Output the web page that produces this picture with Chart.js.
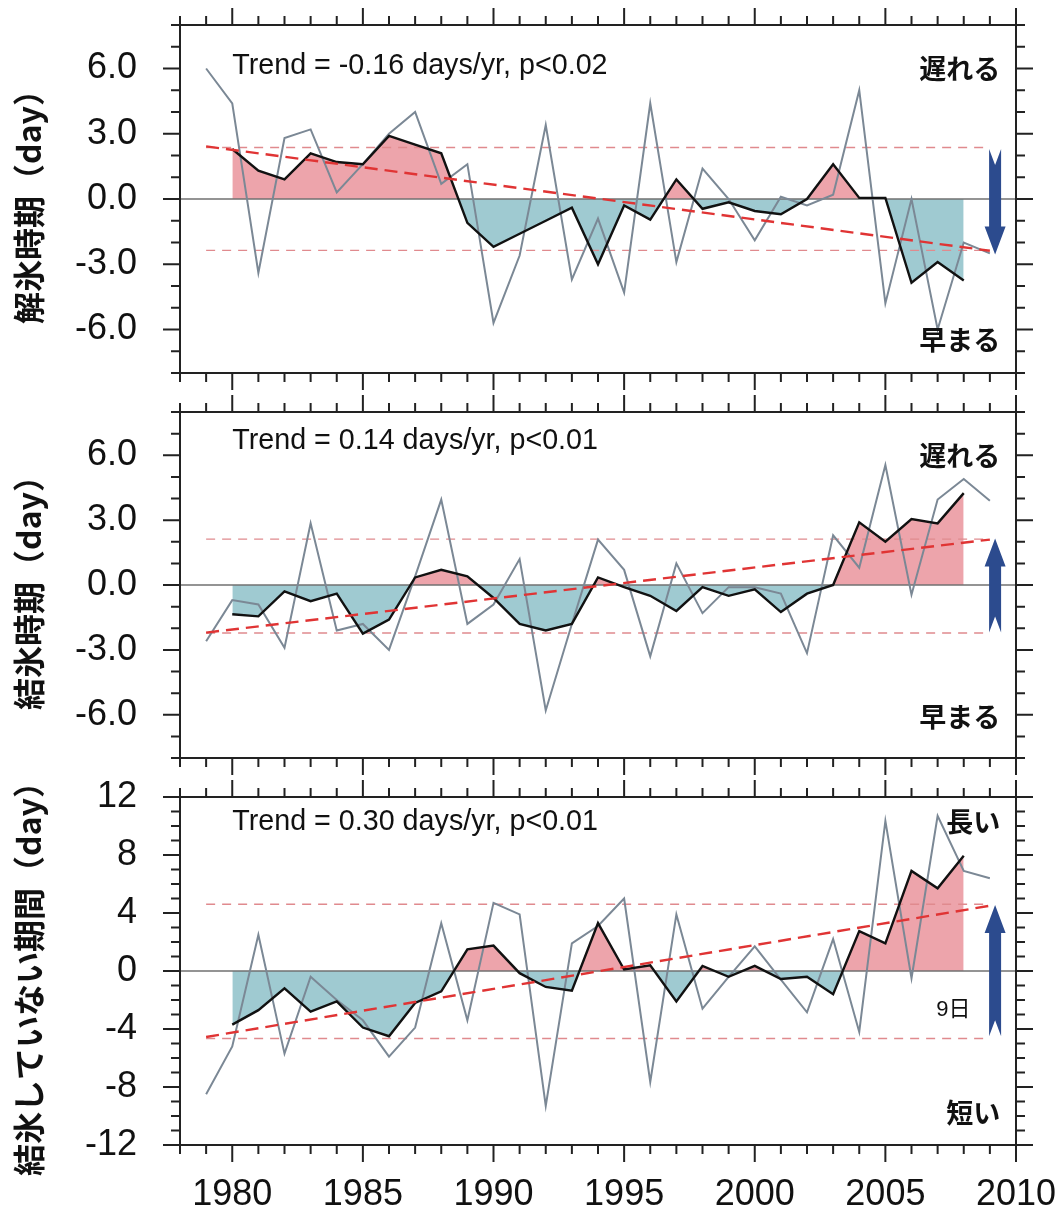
<!DOCTYPE html>
<html>
<head>
<meta charset="utf-8">
<script src="https://cdn.jsdelivr.net/npm/chart.js@4.4.1/dist/chart.umd.min.js"></script>
<style>
  body { margin: 0; background: #fff; width: 1063px; height: 1217px; overflow: hidden; position: relative; }
  canvas { position: absolute; left: 0; }
</style>
</head>
<body>
<canvas id="breakupChart" width="1063" height="393" style="top:0px"></canvas>
<canvas id="freezeChart" width="1063" height="385" style="top:393px"></canvas>
<canvas id="openChart" width="1063" height="477" style="top:740px"></canvas>
<script>
// Years
const annualYears = [1979, 1980, 1981, 1982, 1983, 1984, 1985, 1986, 1987, 1988,
  1989, 1990, 1991, 1992, 1993, 1994, 1995, 1996, 1997, 1998, 1999, 2000, 2001,
  2002, 2003, 2004, 2005, 2006, 2007, 2008, 2009];
const smoothYears = [1980, 1981, 1982, 1983, 1984, 1985, 1986, 1987, 1988, 1989,
  1990, 1991, 1992, 1993, 1994, 1995, 1996, 1997, 1998, 1999, 2000, 2001, 2002,
  2003, 2004, 2005, 2006, 2007, 2008];
const trendYears = [1979, 2009];
const xTicks = [1980, 1985, 1990, 1995, 2000, 2005, 2010];

// 解氷時期 (break-up date anomaly, day)
const breakupAnnual = [6.0, 4.4, -3.4, 2.8, 3.2, 0.3, 1.6, 3.0, 4.0, 0.7, 1.6, -5.7,
  -2.6, 3.4, -3.7, -0.9, -4.3, 4.4, -2.9, 1.4, 0.0, -1.9, 0.1, -0.3, 0.2, 5.0,
  -4.8, 0.0, -6.0, -2.0, -2.5];
const breakupSmooth = [2.3, 1.3, 0.9, 2.1, 1.7, 1.6, 2.9, 2.5, 2.1, -1.1, -2.2,
  -1.6, -1.0, -0.4, -3.0, -0.3, -0.95, 0.9, -0.45, -0.15, -0.55, -0.7, 0.0, 1.6,
  0.05, 0.05, -3.85, -2.9, -3.75];
const breakupTrend = [2.42, -2.38];
const breakupBand = [2.37, -2.36];
const breakupArrow = [2.3, -2.55];
const breakupTicks = [-6, -3, 0, 3, 6];

// 結氷時期 (freeze-up date anomaly, day)
const freezeAnnual = [-2.6, -0.7, -0.9, -2.9, 2.85, -2.1, -1.8, -3.0, 0.4, 3.95,
  -1.8, -0.9, 1.2, -5.8, -1.8, 2.1, 0.7, -3.3, 1.0, -1.3, -0.1, -0.1, -0.4,
  -3.15, 2.3, 0.8, 5.55, -0.45, 3.95, 4.9, 3.9];
const freezeSmooth = [-1.35, -1.45, -0.3, -0.75, -0.4, -2.25, -1.6, 0.35, 0.7, 0.4,
  -0.6, -1.8, -2.1, -1.8, 0.35, -0.1, -0.5, -1.2, -0.1, -0.5, -0.2, -1.25, -0.4,
  0.0, 2.9, 2.0, 3.05, 2.85, 4.25];
const freezeTrend = [-2.2, 2.1];
const freezeBand = [2.12, -2.22];
const freezeArrow = [-2.2, 2.15];
const freezeTicks = [-6, -3, 0, 3, 6];

// 結氷していない期間 (ice-free period anomaly, day)
const openAnnual = [-8.5, -5.2, 2.5, -5.7, -0.4, -2.0, -3.4, -5.9, -3.9, 3.3, -3.4,
  4.7, 3.9, -9.3, 1.9, 3.1, 5.0, -7.65, 3.9, -2.6, -0.4, 1.7, -0.6, -2.85, 2.2,
  -4.2, 10.35, -0.5, 10.7, 6.9, 6.4];
const openSmooth = [-3.7, -2.7, -1.2, -2.8, -2.1, -3.9, -4.5, -2.2, -1.4, 1.5, 1.75,
  -0.15, -1.1, -1.35, 3.3, 0.1, 0.4, -2.1, 0.35, -0.4, 0.35, -0.55, -0.4, -1.6,
  2.75, 1.9, 6.9, 5.7, 7.95];
const openTrend = [-4.55, 4.5];
const openBand = [4.6, -4.65];
const openArrow = [-4.5, 4.55];
const openTicks = [-12, -8, -4, 0, 4, 8, 12];

// Styling
const X_MIN = 1978;
const X_MAX = 2010;
const ARROW_YEAR = 2009.2;
const PINK = '#eda4ab';
const TEAL = '#9fcad1';
const GRAY_LINE = '#7b8895';
const TREND_RED = '#e03434';
const BAND_RED = '#e08a8e';
const ARROW_BLUE = '#2c4b8e';
const LATIN = '"Liberation Sans", Arial, sans-serif';
const CJK = '"Noto Sans CJK JP", sans-serif';

function toPoints(xs, ys) {
    return xs.map((x, i) => ({ x: x, y: ys[i] }));
}

// Frame, minor/major ticks on all four sides, arrow and text labels
const decorPlugin = {
    id: 'decor',
    afterDraw(chart, args, opts) {
        const { ctx, chartArea: a, scales: { x, y } } = chart;
        ctx.save();
        ctx.strokeStyle = '#222';
        ctx.lineWidth = 2;
        ctx.strokeRect(a.left, a.top, a.right - a.left, a.bottom - a.top);

        ctx.beginPath();
        for (let yr = X_MIN; yr <= X_MAX; yr++) {
            const px = x.getPixelForValue(yr);
            const len = yr % 5 === 0 ? 17 : 9;
            ctx.moveTo(px, a.bottom); ctx.lineTo(px, a.bottom + len);
            ctx.moveTo(px, a.top); ctx.lineTo(px, a.top - len);
        }
        for (let v = y.min; v <= y.max; v++) {
            const py = y.getPixelForValue(v);
            const len = v % opts.major === 0 ? 17 : 9;
            ctx.moveTo(a.left, py); ctx.lineTo(a.left - len, py);
            ctx.moveTo(a.right, py); ctx.lineTo(a.right + len, py);
        }
        ctx.stroke();

        // trend arrow
        const cx = x.getPixelForValue(ARROW_YEAR);
        const p0 = y.getPixelForValue(opts.arrow[0]);
        const p1 = y.getPixelForValue(opts.arrow[1]);
        const dir = p1 > p0 ? 1 : -1;
        const shaft = 6, head = 10.5, headLen = 28, notch = 16;
        const hb = p1 - headLen * dir;
        ctx.fillStyle = ARROW_BLUE;
        ctx.beginPath();
        ctx.moveTo(cx - shaft, p0);
        ctx.lineTo(cx, p0 + notch * dir);
        ctx.lineTo(cx + shaft, p0);
        ctx.lineTo(cx + shaft, hb);
        ctx.lineTo(cx + head, hb);
        ctx.lineTo(cx, p1);
        ctx.lineTo(cx - head, hb);
        ctx.lineTo(cx - shaft, hb);
        ctx.closePath();
        ctx.fill();

        // labels
        ctx.fillStyle = '#111';
        ctx.textBaseline = 'middle';
        opts.texts.forEach(t => {
            ctx.font = t.font;
            ctx.textAlign = t.align;
            ctx.fillText(t.text, x.getPixelForValue(t.x), y.getPixelForValue(t.y));
        });
        ctx.restore();
    }
};

function makePanel(canvasId, p) {
    const ctx = document.getElementById(canvasId).getContext('2d');
    return new Chart(ctx, {
        type: 'line',
        data: {
            datasets: [
                {
                    label: 'zero',
                    data: toPoints([X_MIN, X_MAX], [0, 0]),
                    borderColor: '#707070',
                    borderWidth: 1.3,
                    order: 5
                },
                {
                    label: 'upper band',
                    data: toPoints(trendYears, [p.band[0], p.band[0]]),
                    borderColor: BAND_RED,
                    borderWidth: 1.4,
                    borderDash: [9, 7],
                    order: 4
                },
                {
                    label: 'lower band',
                    data: toPoints(trendYears, [p.band[1], p.band[1]]),
                    borderColor: BAND_RED,
                    borderWidth: 1.4,
                    borderDash: [9, 7],
                    order: 4
                },
                {
                    label: 'annual',
                    data: toPoints(annualYears, p.annual),
                    borderColor: GRAY_LINE,
                    borderWidth: 2,
                    order: 3
                },
                {
                    label: 'smoothed',
                    data: toPoints(smoothYears, p.smooth),
                    borderColor: '#111',
                    borderWidth: 2.4,
                    fill: { target: 'origin', above: PINK, below: TEAL },
                    order: 2
                },
                {
                    label: 'trend',
                    data: toPoints(trendYears, p.trend),
                    borderColor: TREND_RED,
                    borderWidth: 2.4,
                    borderDash: [13, 7],
                    order: 1
                }
            ]
        },
        options: {
            responsive: false,
            animation: false,
            layout: { padding: { top: p.padTop, right: 47, left: 0, bottom: 0 } },
            elements: { point: { radius: 0 }, line: { tension: 0 } },
            plugins: {
                legend: { display: false },
                tooltip: { enabled: false },
                filler: { drawTime: 'beforeDatasetsDraw' },
                decor: { major: p.major, arrow: p.arrow, texts: p.texts }
            },
            scales: {
                x: {
                    type: 'linear',
                    min: X_MIN,
                    max: X_MAX,
                    // tick marks are drawn by the decor plugin; tickLength only spaces the labels
                    grid: { display: false, drawTicks: true, tickLength: 28 },
                    border: { display: false },
                    afterBuildTicks: s => { s.ticks = xTicks.map(v => ({ value: v })); },
                    afterFit: s => { s.height = p.xHeight; },
                    ticks: {
                        display: p.showX,
                        padding: 0,
                        maxRotation: 0,
                        color: '#111',
                        font: { family: LATIN, size: 36 },
                        callback: v => String(v)
                    }
                },
                y: {
                    min: p.min,
                    max: p.max,
                    grid: { display: false, drawTicks: true, tickLength: 43 },
                    border: { display: false },
                    afterBuildTicks: s => { s.ticks = p.ticks.map(v => ({ value: v })); },
                    afterFit: s => { s.width = 180; },
                    ticks: {
                        padding: 0,
                        color: '#111',
                        font: { family: LATIN, size: 36, lineHeight: 1 },
                        callback: p.fmt
                    },
                    title: {
                        display: true,
                        text: p.title,
                        color: '#111',
                        font: { family: CJK, size: 32, weight: 'bold' },
                        padding: { top: 10, bottom: 0 }
                    }
                }
            }
        },
        plugins: [decorPlugin]
    });
}

const labelFont = 'bold 27px ' + CJK;
const trendFont = '28.7px ' + LATIN;

makePanel('breakupChart', {
    annual: breakupAnnual, smooth: breakupSmooth, trend: breakupTrend,
    band: breakupBand, arrow: breakupArrow, ticks: breakupTicks,
    min: -8, max: 8, major: 3, fmt: v => v.toFixed(1),
    title: '解氷時期（day）', padTop: 25, xHeight: 20, showX: false,
    texts: [
        { text: 'Trend = -0.16 days/yr, p<0.02', x: 1980, y: 6.1, align: 'left', font: trendFont },
        { text: '遅れる', x: 2009.4, y: 6.0, align: 'right', font: labelFont },
        { text: '早まる', x: 2009.4, y: -6.45, align: 'right', font: labelFont }
    ]
});

makePanel('freezeChart', {
    annual: freezeAnnual, smooth: freezeSmooth, trend: freezeTrend,
    band: freezeBand, arrow: freezeArrow, ticks: freezeTicks,
    min: -8, max: 8, major: 3, fmt: v => v.toFixed(1),
    title: '結氷時期（day）', padTop: 19, xHeight: 20, showX: false,
    texts: [
        { text: 'Trend = 0.14 days/yr, p<0.01', x: 1980, y: 6.65, align: 'left', font: trendFont },
        { text: '遅れる', x: 2009.4, y: 6.0, align: 'right', font: labelFont },
        { text: '早まる', x: 2009.4, y: -6.1, align: 'right', font: labelFont }
    ]
});

makePanel('openChart', {
    annual: openAnnual, smooth: openSmooth, trend: openTrend,
    band: openBand, arrow: openArrow, ticks: openTicks,
    min: -12, max: 12, major: 4, fmt: v => String(v),
    title: '結氷していない期間（day）', padTop: 57, xHeight: 72, showX: true,
    texts: [
        { text: 'Trend = 0.30 days/yr, p<0.01', x: 1980, y: 10.3, align: 'left', font: trendFont },
        { text: '長い', x: 2009.4, y: 10.3, align: 'right', font: labelFont },
        { text: '短い', x: 2009.4, y: -9.8, align: 'right', font: labelFont },
        { text: '9日', x: 2007.6, y: -2.7, align: 'center', font: '22px ' + LATIN + ', ' + CJK }
    ]
});
</script>
</body>
</html>
